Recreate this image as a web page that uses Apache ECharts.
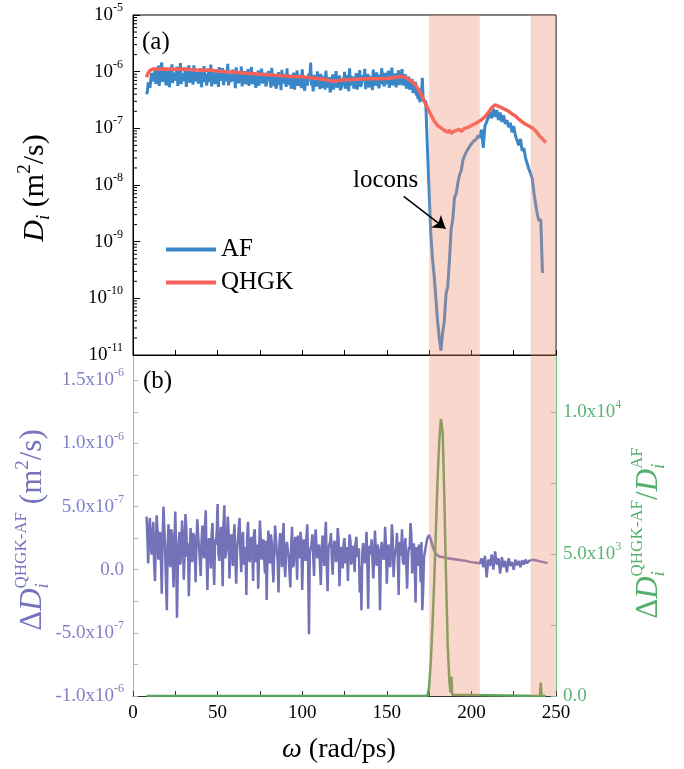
<!DOCTYPE html>
<html><head><meta charset="utf-8">
<script src="https://cdn.jsdelivr.net/npm/echarts@6/dist/echarts.min.js"></script>
<style>html,body{margin:0;padding:0;background:#fff}#chart{width:684px;height:769px}</style>
</head><body><div id="chart"></div>
<script>
// ---------------- DATA ----------------
// AF diffusivity (m^2/s), integer omega samples starting at omega = 8
const afOmegaStart = 8, afOmegaStep = 1;
const afValues = [
// 8-17
4.0e-7, 6.5e-7, 5.2e-7, 9.5e-7, 8.0e-7, 11.5e-7, 7.2e-7, 12.8e-7, 9.0e-7, 14.5e-7,
// 18-27
7.5e-7, 10.8e-7, 6.3e-7, 11.2e-7, 8.7e-7, 13.5e-7, 9.6e-7, 7.0e-7, 12.2e-7, 8.4e-7,
// 28-37
14.2e-7, 9.3e-7, 6.8e-7, 11.8e-7, 8.9e-7, 13.0e-7, 7.6e-7, 10.5e-7, 12.9e-7, 8.1e-7,
// 38-47
9.8e-7, 6.4e-7, 11.4e-7, 8.6e-7, 12.5e-7, 9.2e-7, 7.3e-7, 11.0e-7, 13.3e-7, 8.2e-7,
// 48-57
10.1e-7, 6.1e-7, 9.7e-7, 12.0e-7, 8.5e-7, 11.6e-7, 7.8e-7, 10.4e-7, 13.8e-7, 9.0e-7,
// 58-67
6.6e-7, 10.9e-7, 8.3e-7, 11.9e-7, 7.1e-7, 9.9e-7, 12.3e-7, 8.0e-7, 10.2e-7, 6.9e-7,
// 68-77
11.1e-7, 8.8e-7, 12.1e-7, 7.4e-7, 9.4e-7, 5.6e-7, 10.6e-7, 8.2e-7, 11.3e-7, 7.7e-7,
// 78-87
9.5e-7, 6.2e-7, 10.3e-7, 8.4e-7, 11.7e-7, 7.0e-7, 9.1e-7, 5.4e-7, 9.8e-7, 7.9e-7,
// 88-97
10.8e-7, 6.7e-7, 9.0e-7, 11.4e-7, 7.5e-7, 8.6e-7, 5.9e-7, 9.6e-7, 7.2e-7, 10.5e-7,
// 98-107
6.8e-7, 8.9e-7, 11.0e-7, 7.3e-7, 8.1e-7, 5.7e-7, 9.3e-7, 14.5e-7, 7.0e-7, 8.8e-7,
// 108-117
6.1e-7, 10.1e-7, 7.6e-7, 9.2e-7, 5.5e-7, 8.4e-7, 10.4e-7, 6.6e-7, 8.0e-7, 5.2e-7,
// 118-127
9.0e-7, 7.1e-7, 10.2e-7, 6.3e-7, 8.5e-7, 5.0e-7, 7.8e-7, 9.9e-7, 6.4e-7, 8.7e-7,
// 128-137
11.5e-7, 6.9e-7, 8.2e-7, 5.8e-7, 9.4e-7, 7.3e-7, 10.7e-7, 6.0e-7, 8.6e-7, 11.2e-7,
// 138-147
7.0e-7, 9.1e-7, 5.6e-7, 8.3e-7, 10.9e-7, 7.5e-7, 9.7e-7, 6.2e-7, 8.9e-7, 11.6e-7,
// 148-157
7.2e-7, 9.5e-7, 6.5e-7, 10.4e-7, 8.0e-7, 11.8e-7, 7.4e-7, 9.3e-7, 6.8e-7, 10.6e-7,
// 158-167
8.4e-7, 11.1e-7, 7.7e-7, 9.0e-7, 6.3e-7, 8.2e-7, 5.5e-7, 7.4e-7, 4.8e-7, 6.6e-7,
// 168-177
4.2e-7, 5.0e-7, 3.3e-7, 7.8e-7, 3.2e-7, 3.0e-7, 4.5e-8, 8e-9, 1.4e-9, 5e-10,
// 178-187
2.5e-10, 1.0e-10, 4e-11, 2e-11, 1.2e-11, 2.5e-11, 4e-11, 1.2e-10, 1.6e-10, 4.5e-10,
// 188-197
1.6e-9, 2.5e-9, 6e-9, 7e-9, 1.1e-8, 1.5e-8, 1.8e-8, 2.8e-8, 3.3e-8, 3.8e-8,
// 198-207
4.3e-8, 4.8e-8, 5.0e-8, 5.8e-8, 5.5e-8, 6.5e-8, 7.5e-8, 6.8e-8, 9.5e-8, 4.5e-8,
// 208-217
1.1e-7, 1.3e-7, 1.2e-7, 1.9e-7, 1.5e-7, 2.2e-7, 1.6e-7, 2.1e-7, 1.4e-7, 1.9e-7,
// 218-227
1.3e-7, 1.7e-7, 1.2e-7, 1.4e-7, 1.05e-7, 1.25e-7, 8.5e-8, 1.1e-7, 7.5e-8, 8e-8,
// 228-237
5e-8, 6.5e-8, 4e-8, 4.5e-8, 3e-8, 3.2e-8, 1.9e-8, 1.6e-8, 1.3e-8, 7e-9,
// 238-242
6.5e-9, 3e-9, 2.3e-9, 2.5e-9, 2.8e-10
];
// AF diffusivity at the half-integer omegas of the noisy plateau, starting at omega = 8.5
const afHalfOmegaStart = 8.5, afHalfOmegaStep = 1;
const afHalfValues = [
// 8.5-17.5
4.5e-7, 6.0e-7, 5.5e-7, 7.5e-7, 6.8e-7, 6.1e-7, 7.9e-7, 5.6e-7, 8.5e-7, 6.6e-7,
// 18.5-27.5
8.6e-7, 5.8e-7, 7.0e-7, 5.3e-7, 7.6e-7, 6.3e-7, 8.1e-7, 6.5e-7, 5.6e-7, 7.7e-7,
// 28.5-37.5
6.0e-7, 7.9e-7, 6.7e-7, 5.4e-7, 7.3e-7, 6.4e-7, 8.3e-7, 5.9e-7, 6.8e-7, 7.8e-7,
// 38.5-47.5
6.2e-7, 7.1e-7, 5.3e-7, 7.6e-7, 6.6e-7, 5.7e-7, 7.4e-7, 6.5e-7, 5.5e-7, 7.5e-7,
// 48.5-57.5
6.1e-7, 7.7e-7, 5.4e-7, 6.9e-7, 7.4e-7, 5.8e-7, 6.7e-7, 8.0e-7, 5.7e-7, 7.2e-7,
// 58.5-67.5
6.1e-7, 6.9e-7, 5.1e-7, 7.2e-7, 6.3e-7, 6.7e-7, 5.5e-7, 7.6e-7, 6.0e-7, 6.6e-7,
// 68.5-77.5
5.6e-7, 7.4e-7, 6.0e-7, 6.8e-7, 5.2e-7, 6.4e-7, 5.7e-7, 7.1e-7, 6.2e-7, 6.5e-7,
// 78.5-87.5
5.5e-7, 6.3e-7, 6.9e-7, 5.2e-7, 6.6e-7, 5.7e-7, 5.0e-7, 6.7e-7, 5.9e-7, 4.7e-7,
// 88.5-97.5
6.2e-7, 6.7e-7, 5.4e-7, 5.8e-7, 7.0e-7, 5.0e-7, 6.0e-7, 4.8e-7, 6.5e-7, 5.6e-7,
// 98.5-107.5
6.0e-7, 5.1e-7, 6.8e-7, 4.6e-7, 6.2e-7, 5.3e-7, 7.3e-7, 5.7e-7, 4.5e-7, 6.4e-7,
// 108.5-117.5
5.5e-7, 6.1e-7, 4.9e-7, 5.2e-7, 6.3e-7, 4.8e-7, 6.5e-7, 5.3e-7, 4.3e-7, 5.9e-7,
// 118.5-127.5
4.8e-7, 6.2e-7, 5.2e-7, 6.6e-7, 4.7e-7, 5.6e-7, 6.1e-7, 5.0e-7, 6.5e-7, 4.5e-7,
// 128.5-137.5
5.7e-7, 6.7e-7, 5.0e-7, 6.0e-7, 4.8e-7, 6.4e-7, 5.4e-7, 5.9e-7, 7.0e-7, 4.9e-7,
// 138.5-147.5
5.8e-7, 5.3e-7, 6.6e-7, 4.7e-7, 6.2e-7, 5.6e-7, 6.5e-7, 5.1e-7, 6.0e-7, 6.8e-7,
// 148.5-157.5
5.5e-7, 6.0e-7, 6.5e-7, 5.2e-7, 7.0e-7, 5.7e-7, 6.2e-7, 5.3e-7, 6.7e-7, 5.8e-7,
// 158.5-167.5
6.9e-7, 5.7e-7, 6.3e-7, 5.0e-7, 6.0e-7, 4.8e-7, 5.6e-7, 4.2e-7, 5.0e-7, 3.8e-7,
// 168.5-171.5
3.3e-7, 2.9e-7, 4.1e-7, 3.1e-7
];

// QHGK diffusivity (m^2/s)
const qhgkOmega = [8, 9, 10, 12, 15, 20, 25, 30, 35, 40, 45, 50, 55, 60, 65, 70, 75, 80, 85, 90, 95, 100,
  105, 110, 115, 118, 121, 125, 130, 135, 140, 145, 150, 155, 158, 161, 164, 167, 170, 172, 174, 176, 178,
  180, 182, 183, 184, 186, 187, 188, 190, 191, 193, 194, 196, 198, 200, 202, 204, 206, 208, 210, 212, 214,
  216, 218, 220, 222, 224, 226, 228, 230, 232, 234, 236, 238, 240, 242, 244];
const qhgkValues = [8.0e-7, 9.5e-7, 1.05e-6, 1.12e-6, 1.1e-6, 1.12e-6, 1.1e-6, 1.11e-6, 1.08e-6, 1.06e-6, 1.07e-6, 1.03e-6, 1.0e-6, 9.8e-7, 9.5e-7, 9.3e-7, 9.0e-7, 8.8e-7, 8.6e-7, 8.4e-7, 8.2e-7, 8.1e-7,
  7.8e-7, 7.5e-7, 7.1e-7, 6.8e-7, 6.9e-7, 7.2e-7, 7.3e-7, 7.4e-7, 7.5e-7, 7.5e-7, 7.6e-7, 7.9e-7, 8.3e-7, 8.0e-7, 7.0e-7, 5.8e-7, 4.2e-7, 3.1e-7, 2.3e-7, 1.75e-7, 1.35e-7,
  1.12e-7, 1.02e-7, 1.08e-7, 9.2e-8, 8.5e-8, 9.3e-8, 8.2e-8, 9.0e-8, 8.4e-8, 9.6e-8, 8.8e-8, 1.0e-7, 1.04e-7, 1.12e-7, 1.2e-7, 1.3e-7, 1.42e-7, 1.6e-7, 1.9e-7, 2.3e-7, 2.6e-7,
  2.45e-7, 2.3e-7, 2.15e-7, 2.0e-7, 1.8e-7, 1.65e-7, 1.45e-7, 1.3e-7, 1.18e-7, 1.1e-7, 1.02e-7, 9.0e-8, 7.5e-8, 6.5e-8, 5.6e-8];

// Delta D = D(QHGK) - D(AF) (m^2/s), integer omega samples starting at omega = 8
const dOmegaStart = 8, dOmegaStep = 1;
const deltaDValues = [
// 8-17
4.2e-7, 0.5e-7, 4.1e-7, 1.2e-7, 3.8e-7, -0.9e-7, 4.3e-7, 0.8e-7, 3.0e-7, -1.9e-7,
// 18-27
5.0e-7, 1.5e-7, -3.2e-7, 3.6e-7, 0.2e-7, 2.9e-7, -1.4e-7, 4.6e-7, -3.8e-7, 2.2e-7,
// 28-37
0.4e-7, 3.9e-7, -0.8e-7, 4.4e-7, 1.0e-7, -2.1e-7, 3.3e-7, 0.6e-7, 2.7e-7, -1.0e-7,
// 38-47
4.0e-7, 1.8e-7, -0.5e-7, 3.5e-7, 0.9e-7, 4.7e-7, -1.6e-7, 2.5e-7, 0.1e-7, 3.7e-7,
// 48-57
-1.2e-7, 2.0e-7, 5.2e-7, 0.7e-7, 3.4e-7, -1.3e-7, 5.1e-7, 1.4e-7, 4.2e-7, -0.7e-7,
// 58-67
2.8e-7, 0.3e-7, 3.6e-7, -1.1e-7, 2.3e-7, 4.1e-7, -0.2e-7, 3.0e-7, 1.1e-7, -2.0e-7,
// 68-77
3.8e-7, 0.6e-7, 2.6e-7, -0.9e-7, 3.2e-7, 1.7e-7, -1.5e-7, 3.9e-7, 0.8e-7, 2.4e-7,
// 78-87
-0.3e-7, -2.4e-7, 3.1e-7, 0.5e-7, 2.1e-7, -1.0e-7, 3.5e-7, 1.3e-7, -1.8e-7, 2.9e-7,
// 88-97
0.2e-7, 3.7e-7, -0.6e-7, 2.2e-7, 1.0e-7, -1.4e-7, 3.4e-7, 0.4e-7, 2.6e-7, -0.8e-7,
// 98-107
1.9e-7, 3.0e-7, -1.6e-7, 2.4e-7, 0.7e-7, 3.6e-7, -5.1e-7, 1.5e-7, 2.8e-7, -0.5e-7,
// 108-117
3.2e-7, 0.9e-7, 2.0e-7, -1.2e-7, 2.7e-7, 0.3e-7, 3.8e-7, -1.7e-7, 1.6e-7, 2.9e-7,
// 118-127
-0.4e-7, 2.3e-7, 0.6e-7, 3.3e-7, -1.3e-7, 1.8e-7, 0.1e-7, 2.5e-7, 1.2e-7, -0.9e-7,
// 128-137
2.8e-7, 0.4e-7, 1.9e-7, -0.2e-7, 2.6e-7, 1.0e-7, -1.8e-7, -3.2e-7, 2.1e-7, 0.5e-7,
// 138-147
3.0e-7, -3.1e-7, 1.4e-7, 2.4e-7, -0.7e-7, 3.1e-7, 0.3e-7, 1.7e-7, -3.2e-7, 2.2e-7,
// 148-157
0.8e-7, 3.4e-7, -1.1e-7, 2.0e-7, 0.2e-7, 3.6e-7, -0.6e-7, 1.5e-7, 2.9e-7, -2.0e-7,
// 158-167
1.1e-7, 3.2e-7, 0.4e-7, 2.5e-7, -1.5e-7, 1.8e-7, 3.7e-7, -0.3e-7, 2.1e-7, -2.6e-7,
// 168-177
1.3e-7, 2.0e-7, -1.0e-7, -3.2e-7, 1.0e-7, 1.8e-7, 2.5e-7, 2.75e-7, 2.4e-7, 1.9e-7,
// 178-187
1.5e-7, 1.25e-7, 1.1e-7, 1.05e-7, 0.95e-7, 1.0e-7, 0.9e-7, 0.92e-7, 0.85e-7, 0.88e-7,
// 188-197
0.8e-7, 0.84e-7, 0.78e-7, 0.8e-7, 0.74e-7, 0.76e-7, 0.7e-7, 0.72e-7, 0.66e-7, 0.7e-7,
// 198-207
0.64e-7, 0.62e-7, 0.66e-7, 0.58e-7, 0.6e-7, 0.55e-7, 0.58e-7, 0.5e-7, 0.9e-7, 0.2e-7,
// 208-217
1.1e-7, -0.6e-7, 0.8e-7, 0.3e-7, 1.2e-7, 0.0e-7, 1.45e-7, 0.4e-7, 0.9e-7, -0.3e-7,
// 218-227
1.0e-7, 0.2e-7, 0.7e-7, -0.2e-7, 0.9e-7, 0.3e-7, 0.6e-7, 0.0e-7, 0.8e-7, 0.35e-7,
// 228-237
0.7e-7, 0.2e-7, 0.75e-7, 0.4e-7, 0.8e-7, 0.5e-7, 0.7e-7, 0.6e-7, 0.78e-7, 0.72e-7,
// 238-245
0.75e-7, 0.7e-7, 0.68e-7, 0.66e-7, 0.62e-7, 0.6e-7, 0.56e-7, 0.54e-7
];
// Delta D at the half-integer omegas of the noisy plateau, starting at omega = 8.5
const dHalfOmegaStart = 8.5, dHalfOmegaStep = 1;
const deltaDHalfValues = [
// 8.5-17.5
2.6e-7, 3.3e-7, 1.9e-7, 2.8e-7, 0.4e-7, 2.2e-7, 3.1e-7, 1.6e-7, 0.9e-7, 2.5e-7,
// 18.5-27.5
3.4e-7, -1.0e-7, 2.0e-7, 1.1e-7, 3.2e-7, 0.6e-7, 2.4e-7, 1.3e-7, 0.2e-7, 3.0e-7,
// 28.5-37.5
1.7e-7, 2.6e-7, 1.2e-7, 3.3e-7, 2.1e-7, 0.5e-7, 1.9e-7, 2.9e-7, 1.4e-7, 2.3e-7,
// 38.5-47.5
2.7e-7, 0.8e-7, 2.2e-7, 1.5e-7, 3.4e-7, 1.0e-7, 2.0e-7, 1.6e-7, 2.9e-7, 0.7e-7,
// 48.5-57.5
2.4e-7, 3.1e-7, 1.3e-7, 2.5e-7, 1.8e-7, 3.6e-7, 0.9e-7, 2.1e-7, 3.0e-7, 1.5e-7,
// 58.5-67.5
1.9e-7, 2.6e-7, 0.7e-7, 1.6e-7, 3.3e-7, 1.2e-7, 2.4e-7, 0.4e-7, 1.8e-7, 2.7e-7,
// 68.5-77.5
1.1e-7, 2.2e-7, 1.5e-7, 2.9e-7, 0.6e-7, 2.0e-7, 1.3e-7, 2.5e-7, 1.7e-7, 0.9e-7,
// 78.5-87.5
2.3e-7, 1.2e-7, 1.8e-7, 2.8e-7, 0.3e-7, 1.6e-7, 2.4e-7, 0.8e-7, 2.0e-7, 1.4e-7,
// 88.5-97.5
2.6e-7, 0.5e-7, 1.7e-7, 2.3e-7, 1.1e-7, 1.9e-7, 0.2e-7, 2.1e-7, 1.5e-7, 2.7e-7,
// 98.5-107.5
0.9e-7, 2.2e-7, 1.3e-7, 1.8e-7, 2.5e-7, 0.6e-7, 1.4e-7, 2.0e-7, 1.1e-7, 2.4e-7,
// 108.5-117.5
1.6e-7, 0.8e-7, 2.1e-7, 1.3e-7, 1.9e-7, 2.6e-7, 0.4e-7, 1.7e-7, 2.2e-7, 0.9e-7,
// 118.5-127.5
1.5e-7, 2.0e-7, 1.1e-7, 2.4e-7, 0.7e-7, 1.6e-7, 2.1e-7, 0.5e-7, 1.8e-7, 1.2e-7,
// 128.5-137.5
2.3e-7, 0.8e-7, 1.5e-7, 2.0e-7, 1.0e-7, 1.7e-7, 0.3e-7, 1.3e-7, 2.2e-7, 1.4e-7,
// 138.5-147.5
0.6e-7, 1.9e-7, 1.2e-7, 2.5e-7, 0.9e-7, 1.6e-7, 2.0e-7, 0.4e-7, 1.4e-7, 2.3e-7,
// 148.5-157.5
1.0e-7, 1.8e-7, 0.7e-7, 2.1e-7, 1.3e-7, 2.6e-7, 0.8e-7, 1.7e-7, 1.1e-7, 2.2e-7,
// 158.5-167.5
1.5e-7, 0.6e-7, 1.9e-7, 2.4e-7, 0.9e-7, 1.6e-7, 2.8e-7, 1.2e-7, 0.5e-7, 1.8e-7,
// 168.5-171.5
0.3e-7, 1.4e-7, 2.2e-7, -1.5e-7
];

// Ratio Delta D / D(AF)
const ratioOmega = [8, 174, 175, 176, 177, 178, 179, 180, 181, 182, 182.5, 183, 184, 185, 186, 187, 187.6, 188.2, 188.7, 189.2, 240.5, 241, 241.5, 244];
const ratioValues = [0, 0, 300, 1200, 2500, 4000, 5800, 7600, 9000, 9750, 9800, 9300, 7000, 4200, 1800, 500, 120, 680, 40, 0, 0, 470, 0, 0];

// Shaded omega bands (rad/ps)
const bands = [[175, 205], [235, 250]];

// Tick values
const xLabelValues = [0, 50, 100, 150, 200, 250];
const leftBottomLabelValues = [-1e-6, -5e-7, 0, 5e-7, 1e-6, 1.5e-6];
const leftBottomTickValues = [-1e-6, -7.5e-7, -5e-7, -2.5e-7, 0, 2.5e-7, 5e-7, 7.5e-7, 1e-6, 1.25e-6, 1.5e-6];
const rightLabelValues = [0, 5000, 10000];
const rightTickValues = [0, 2500, 5000, 7500, 10000];
const logDecades = [-11, -10, -9, -8, -7, -6];
const logMinorMultipliers = [2, 3, 4, 5, 6, 7, 8, 9];

// Annotation arrow (data coordinates)
const loconsArrowFrom = [160.0, 6.3e-9];
const loconsArrowTo = [184.7, 1.7e-9];

// ---------------- BUILD ----------------
const FONT = '"Liberation Serif", "Times New Roman", serif';
const C_AF = '#3a87c8', C_Q = '#f8615a', C_D = '#7371b8', C_R = '#5aa55a';
const C_PURPLE_AX = '#a9a8dc', C_PURPLE_TXT = '#8180c8', C_GREEN_AX = '#72c28a', C_GREEN_TXT = '#58b574';
const BAND = 'rgba(240,140,110,0.35)';

function samples(start, step, vals) { return vals.map((v, i) => [start + i * step, v]); }
function merged(a, b) { return a.concat(b).sort((p, q) => p[0] - q[0]); }
const afData = merged(samples(afOmegaStart, afOmegaStep, afValues), samples(afHalfOmegaStart, afHalfOmegaStep, afHalfValues));
const qData = qhgkOmega.map((w, i) => [w, qhgkValues[i]]);
const dData = merged(samples(dOmegaStart, dOmegaStep, deltaDValues), samples(dHalfOmegaStart, dHalfOmegaStep, deltaDHalfValues));
const rData = ratioOmega.map((w, i) => [w, ratioValues[i]]);
const minorTicks = [];
logDecades.forEach(e => logMinorMultipliers.forEach(k => minorTicks.push([0, k * Math.pow(10, e)])));

function sciLabel(v) {
  if (Math.abs(v) < 1e-12) return '{m|0.0}';
  const e = Math.floor(Math.log10(Math.abs(v)) + 1e-9);
  const m = v / Math.pow(10, e);
  return '{m|' + m.toFixed(1) + 'x10}{s|' + e + '}';
}
function richFor(color) {
  return {
    m: { fontSize: 19, fontFamily: FONT, color: color, lineHeight: 26 },
    b: { fontSize: 19, fontFamily: FONT, color: color, lineHeight: 26 },
    s: { fontSize: 12, fontFamily: FONT, color: color, lineHeight: 12, verticalAlign: 'top' }
  };
}

function bandSeries(xi, yi, yRef) {
  return {
    type: 'custom', xAxisIndex: xi, yAxisIndex: yi, z: 4, silent: true,
    data: bands.map(b => [b[0], b[1]]),
    encode: { x: [0, 1] },
    renderItem: function (params, api) {
      const cs = params.coordSys;
      const x0 = api.coord([api.value(0), yRef])[0];
      const x1 = api.coord([api.value(1), yRef])[0];
      return { type: 'rect', shape: { x: x0, y: cs.y, width: x1 - x0, height: cs.height }, style: { fill: BAND } };
    }
  };
}

// text composition helper (for titles with sub/superscripts)
const mctx = document.createElement('canvas').getContext('2d');
function fontStr(p) { return (p.it ? 'italic ' : '') + p.s + 'px ' + FONT; }
function composite(pieces, cx, cy, rotation, color) {
  let pen = 0, prevStart = 0;
  const kids = [];
  pieces.forEach(p => {
    mctx.font = fontStr(p);
    const w = mctx.measureText(p.t).width;
    const start = p.stack ? prevStart : pen;
    kids.push({ type: 'text', x: start, y: p.dy || 0, style: { text: p.t, font: fontStr(p), fill: color, align: 'left', verticalAlign: 'middle' } });
    if (p.stack) { pen = Math.max(pen, start + w); } else { pen = start + w; }
    prevStart = start;
  });
  kids.forEach(k => { k.x -= pen / 2; });
  return { type: 'group', x: cx, y: cy, rotation: rotation, children: kids, silent: true };
}

const graphics = [
  composite([{ t: 'D', s: 30, it: true }, { t: 'i', s: 19, it: true, dy: 9 }, { t: ' (m', s: 30 }, { t: '2', s: 19, dy: -10 }, { t: '/s)', s: 30 }], 35, 188, Math.PI / 2, '#000'),
  composite([{ t: 'Δ', s: 31 }, { t: 'D', s: 31, it: true }, { t: 'i', s: 19, it: true, dy: 10 }, { t: 'QHGK-AF', s: 17, dy: -11, stack: true }, { t: ' (m', s: 31 }, { t: '2', s: 19, dy: -10 }, { t: '/s)', s: 31 }], 33, 530, Math.PI / 2, '#7674bd'),
  composite([{ t: 'Δ', s: 31 }, { t: 'D', s: 31, it: true }, { t: 'i', s: 19, it: true, dy: 10 }, { t: 'QHGK-AF', s: 17, dy: -11, stack: true }, { t: '/', s: 31 }, { t: 'D', s: 31, it: true }, { t: 'i', s: 19, it: true, dy: 10 }, { t: 'AF', s: 17, dy: -11, stack: true }], 649, 533, Math.PI / 2, '#52b06c'),
  composite([{ t: 'ω', s: 28, it: true }, { t: ' (rad/ps)', s: 28 }], 339, 750, 0, '#000'),
  { type: 'text', x: 142, y: 42, silent: true, style: { text: '(a)', font: '25px ' + FONT, fill: '#000', align: 'left', verticalAlign: 'middle' } },
  { type: 'text', x: 143, y: 381, silent: true, style: { text: '(b)', font: '25px ' + FONT, fill: '#000', align: 'left', verticalAlign: 'middle' } },
  { type: 'text', x: 353, y: 180, silent: true, style: { text: 'locons', font: '25px ' + FONT, fill: '#000', align: 'left', verticalAlign: 'middle' } }
];

const option = {
  animation: false,
  backgroundColor: '#fff',
  grid: [
    { left: 133, right: 128, top: 15, height: 340, show: true, borderColor: '#000', borderWidth: 1, backgroundColor: 'transparent' },
    { left: 133, right: 128, top: 355, height: 341, show: false }
  ],
  legend: {
    data: [{ name: 'AF', icon: 'rect' }, { name: 'QHGK', icon: 'rect' }],
    orient: 'vertical', left: 161, top: 232, itemWidth: 50, itemHeight: 4, itemGap: 8,
    textStyle: { fontFamily: FONT, fontSize: 25, color: '#000', lineHeight: 25 },
    selectedMode: false
  },
  xAxis: [
    { gridIndex: 0, type: 'value', min: 0, max: 250, interval: 25,
      axisLine: { onZero: false, lineStyle: { color: '#000' } }, axisTick: { inside: true, length: 5, lineStyle: { color: '#000' } },
      axisLabel: { show: false }, splitLine: { show: false } },
    { gridIndex: 1, type: 'value', min: 0, max: 250, interval: 25,
      axisLine: { onZero: false, lineStyle: { color: '#333' } }, axisTick: { inside: true, length: 5, lineStyle: { color: '#333' } },
      axisLabel: { customValues: xLabelValues, fontFamily: FONT, fontSize: 19, color: '#000', margin: 8 },
      splitLine: { show: false } }
  ],
  yAxis: [
    { gridIndex: 0, type: 'log', logBase: 10, min: 1e-11, max: 1e-5,
      axisLine: { show: true, onZero: false, lineStyle: { color: '#000' } },
      axisTick: { inside: true, length: 7, lineStyle: { color: '#000' } },
      axisLabel: { margin: 10, formatter: v => '{b|10}{s|' + Math.round(Math.log10(v)) + '}', rich: richFor('#000') },
      splitLine: { show: false } },
    { gridIndex: 1, type: 'value', min: -1e-6, max: 1.7e-6, interval: 5e-7,
      axisLine: { show: true, onZero: false, lineStyle: { color: C_PURPLE_AX } },
      axisTick: { inside: true, length: 5, customValues: leftBottomTickValues, lineStyle: { color: C_PURPLE_AX } },
      axisLabel: { margin: 9, customValues: leftBottomLabelValues, formatter: sciLabel, rich: richFor(C_PURPLE_TXT) },
      splitLine: { show: false } },
    { gridIndex: 1, type: 'value', position: 'right', min: 0, max: 12000, interval: 5000,
      axisLine: { show: true, onZero: false, lineStyle: { color: C_GREEN_AX } },
      axisTick: { inside: true, length: 5, customValues: rightTickValues, lineStyle: { color: C_GREEN_AX } },
      axisLabel: { margin: 7, customValues: rightLabelValues, formatter: sciLabel, rich: richFor(C_GREEN_TXT) },
      splitLine: { show: false } }
  ],
  series: [
    { name: 'AF', type: 'line', xAxisIndex: 0, yAxisIndex: 0, data: afData, showSymbol: false, symbol: 'none', z: 2,
      lineStyle: { color: C_AF, width: 3 }, itemStyle: { color: C_AF } },
    { name: 'QHGK', type: 'line', xAxisIndex: 0, yAxisIndex: 0, data: qData, showSymbol: false, symbol: 'none', z: 2,
      lineStyle: { color: C_Q, width: 3.5 }, itemStyle: { color: C_Q } },
    { type: 'custom', xAxisIndex: 0, yAxisIndex: 0, z: 5, silent: true, data: minorTicks,
      renderItem: function (params, api) {
        const p = api.coord([api.value(0), api.value(1)]);
        return { type: 'line', shape: { x1: p[0], y1: p[1], x2: p[0] + 4, y2: p[1] }, style: { stroke: '#000', lineWidth: 1 } };
      } },
    bandSeries(0, 0, 1e-8),
    { name: 'arrow', type: 'line', xAxisIndex: 0, yAxisIndex: 0, data: [], z: 6, silent: true,
      markLine: { silent: true, symbol: ['none', 'arrow'], symbolSize: 12, animation: false,
        lineStyle: { color: '#000', width: 1.5, type: 'solid' }, label: { show: false },
        data: [[{ coord: loconsArrowFrom }, { coord: loconsArrowTo }]] } },
    { name: 'dD', type: 'line', xAxisIndex: 1, yAxisIndex: 1, data: dData, showSymbol: false, symbol: 'none', z: 2,
      lineStyle: { color: C_D, width: 2.5 } },
    { name: 'ratio', type: 'line', xAxisIndex: 1, yAxisIndex: 2, data: rData, showSymbol: false, symbol: 'none', z: 2,
      lineStyle: { color: C_R, width: 2.5 } },
    bandSeries(1, 1, 0)
  ],
  graphic: graphics
};

const chart = echarts.init(document.getElementById('chart'), null, { renderer: 'canvas' });
chart.setOption(option);
</script></body></html>
